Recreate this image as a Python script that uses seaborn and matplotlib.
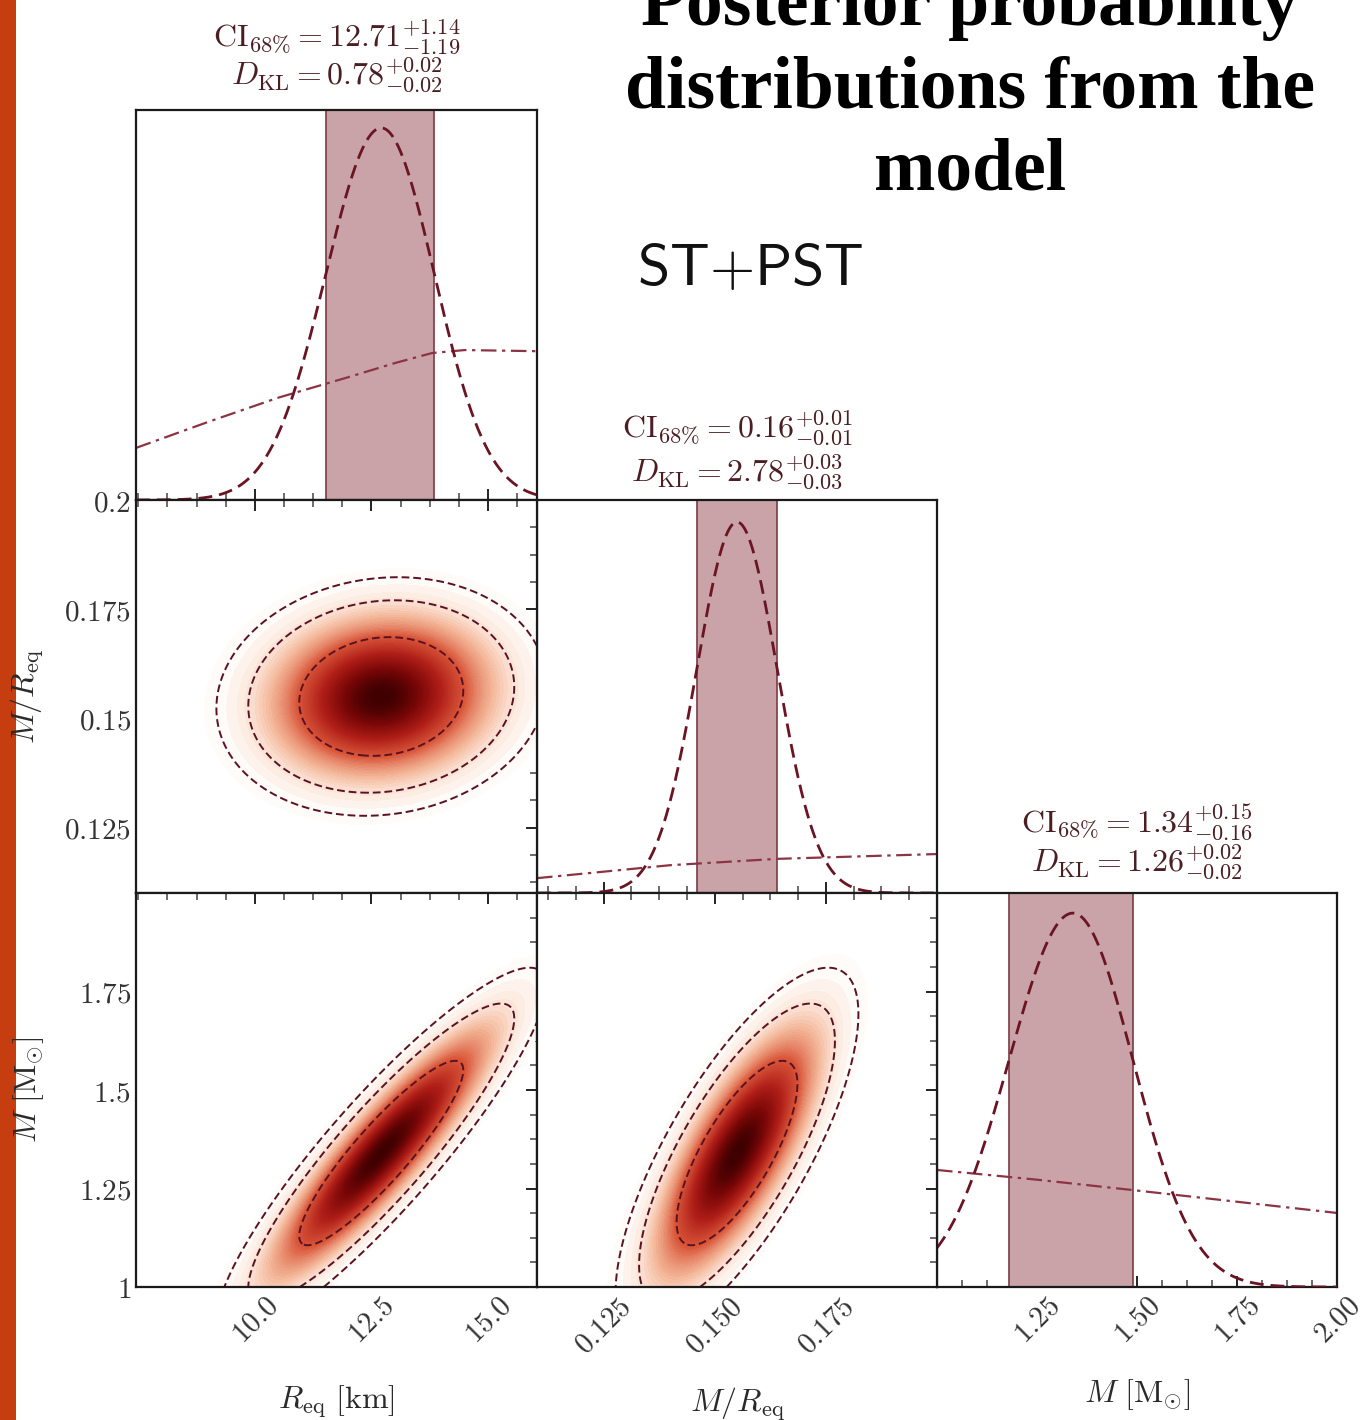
import numpy as np
import matplotlib
matplotlib.use("Agg")
import matplotlib.pyplot as plt
from matplotlib.colors import LinearSegmentedColormap, Normalize
from matplotlib.ticker import AutoMinorLocator
from matplotlib.patches import Rectangle
import seaborn as sns

sns.set_theme(style="white")
plt.rcParams["font.family"] = ["DejaVu Sans"]
plt.rcParams["mathtext.fontset"] = "cm"

# ---- posterior summaries (median, 68% credible interval) ----
param_names = ["R_eq", "MR", "M"]
medians = [12.71, 0.155, 1.34]
ci_lower = [1.19, 0.009, 0.16]
ci_upper = [1.14, 0.009, 0.15]
ci_text = [r"12.71_{-1.19}^{+1.14}", r"0.16_{-0.01}^{+0.01}", r"1.34_{-0.16}^{+0.15}"]
dkl_text = [r"0.78_{-0.02}^{+0.02}", r"2.78_{-0.03}^{+0.03}", r"1.26_{-0.02}^{+0.02}"]

# ---- axis ranges and ticks ----
ranges = [(7.45, 16.05), (0.11, 0.20), (1.0, 2.0)]
x_ticks = [[10.0, 12.5, 15.0], [0.125, 0.150, 0.175], [1.25, 1.50, 1.75, 2.00]]
x_tick_labels = [["10.0", "12.5", "15.0"], ["0.125", "0.150", "0.175"],
                 ["1.25", "1.50", "1.75", "2.00"]]
y_ticks = {1: [0.125, 0.15, 0.175, 0.2], 2: [1.0, 1.25, 1.5, 1.75]}
y_tick_labels = {1: ["0.125", "0.15", "0.175", "0.2"], 2: ["1", "1.25", "1.5", "1.75"]}
axis_labels = [r"$R_{\rm eq}\ [\mathrm{km}]$", r"$M/R_{\rm eq}$",
               r"$M\ [\mathrm{M}_{\odot}]$"]

# ---- prior densities (relative to posterior peak) ----
prior_R_x = [7.45, 9.0, 10.5, 12.0, 13.0, 13.8, 14.5, 16.05]
prior_R_y = [0.14, 0.21, 0.275, 0.33, 0.368, 0.395, 0.403, 0.40]
prior_MR_x = [0.11, 0.14, 0.164, 0.20]
prior_MR_y = [0.040, 0.075, 0.092, 0.105]
prior_M_x = [1.0, 1.25, 1.5, 1.75, 2.0]
prior_M_y = [0.313, 0.287, 0.258, 0.228, 0.198]
priors = [(prior_R_x, prior_R_y), (prior_MR_x, prior_MR_y), (prior_M_x, prior_M_y)]
peak_frac = [0.954, 0.944, 0.949]

# ---- 2D posterior shapes: (col, row) -> correlation ----
pair_corr = {(0, 1): 0.10, (0, 2): 0.90, (1, 2): 0.75}
credible_levels = [0.99, 0.95, 0.68]

# ---- styling ----
curve_col = "#6a1424"
prior_col = "#8c3444"
band_face = "#c9a3a7"
band_edge = "#7b3b45"
contour_col = "#5a1222"
text_col = "#4a1e22"
tick_col = "#333333"
cmap = LinearSegmentedColormap.from_list(
    "post", [(0.0, "#ffffff"), (0.04, "#fce9de"), (0.12, "#f4b89a"),
             (0.3, "#d9573a"), (0.55, "#b01e18"), (0.8, "#780606"), (1.0, "#3f0000")])

fig = plt.figure(figsize=(13.61, 14.2), dpi=100)
fig.patch.set_facecolor("white")
fig.add_artist(Rectangle((0, 0), 16 / 1361, 1, transform=fig.transFigure,
                         facecolor="#c63d0f", edgecolor="none", zorder=-5))

col_edges = [136, 537, 937, 1337]
row_edges = [110, 500, 893, 1287]
W, H = 1361, 1420


def make_axes(col, row):
    x0 = col_edges[col] / W
    w = (col_edges[col + 1] - col_edges[col]) / W
    y0 = 1 - row_edges[row + 1] / H
    h = (row_edges[row + 1] - row_edges[row]) / H
    return fig.add_axes([x0, y0, w, h])


def style_axes(ax, col, row, diag):
    for s in ax.spines.values():
        s.set_color("#1a1a1a")
        s.set_linewidth(1.6)
    ax.set_xlim(*ranges[col])
    ax.set_xticks(x_ticks[col])
    ax.xaxis.set_minor_locator(AutoMinorLocator(4))
    ax.tick_params(axis="both", which="major", direction="in", length=8, width=1.4,
                   color="#222222", labelcolor=tick_col, labelsize=21)
    ax.tick_params(axis="both", which="minor", direction="in", length=5, width=1.1,
                   color="#444444")
    if diag:
        ax.set_yticks([])
        ax.tick_params(axis="x", which="both", top=False, bottom=True)
    else:
        ax.set_ylim(*ranges[row])
        ax.set_yticks(y_ticks[row])
        ax.yaxis.set_minor_locator(AutoMinorLocator(4))
        ax.tick_params(axis="both", which="both", top=True, right=True)
    if row == 2:
        ax.set_xticklabels([f"${t}$" for t in x_tick_labels[col]], rotation=45)
        ax.set_xlabel(axis_labels[col], fontsize=23, color="#2a2a2a")
        ax.xaxis.set_label_coords(0.5, [-0.245, -0.25, -0.23][col])
    else:
        ax.set_xticklabels([])
    if col == 0 and not diag:
        ax.set_yticklabels([f"${t}$" for t in y_tick_labels[row]])
        ax.set_ylabel(axis_labels[row], fontsize=23, color="#2a2a2a")
        ax.yaxis.set_label_coords(-0.225, 0.5)
    elif not diag:
        ax.set_yticklabels([])
    ax.grid(False)


# ---- diagonal: 1D marginal posteriors ----
for i in range(3):
    ax = make_axes(i, i)
    lo, hi = ranges[i]
    x = np.linspace(lo, hi, 600)
    sig = np.where(x < medians[i], ci_lower[i], ci_upper[i])
    post = np.exp(-0.5 * ((x - medians[i]) / sig) ** 2)
    ax.axvspan(medians[i] - ci_lower[i], medians[i] + ci_upper[i],
               facecolor=band_face, edgecolor=band_edge, linewidth=1.2, zorder=1)
    sns.lineplot(x=x, y=post, ax=ax, color=curve_col, linewidth=2.0,
                 linestyle=(0, (5, 2.5)), zorder=3)
    px, py = priors[i]
    sns.lineplot(x=px, y=py, ax=ax, color=prior_col, linewidth=1.6,
                 linestyle=(0, (7, 2.5, 1.5, 2.5)), zorder=2)
    ax.set_ylim(0, 1 / peak_frac[i])
    style_axes(ax, i, i, True)
    ax.text(0.5, [1.187, 1.183, 1.18][i], rf"$\mathrm{{CI}}_{{68\%}} = {ci_text[i]}$",
            transform=ax.transAxes, ha="center", va="center", fontsize=23, color=text_col)
    ax.text(0.5, [1.09, 1.071, 1.079][i], rf"$D_{{\mathrm{{KL}}}} = {dkl_text[i]}$",
            transform=ax.transAxes, ha="center", va="center", fontsize=23, color=text_col)

# ---- off-diagonal: 2D joint posteriors ----
for (cx, cy), rho in pair_corr.items():
    ax = make_axes(cx, cy)
    xs = np.linspace(*ranges[cx], 400)
    ys = np.linspace(*ranges[cy], 400)
    X, Y = np.meshgrid(xs, ys)
    sx = 0.5 * (ci_lower[cx] + ci_upper[cx])
    sy = 0.5 * (ci_lower[cy] + ci_upper[cy])
    dx = (X - medians[cx]) / sx
    dy = (Y - medians[cy]) / sy
    q = (dx ** 2 - 2 * rho * dx * dy + dy ** 2) / (1 - rho ** 2)
    dens = np.exp(-0.5 * q)
    thr = [1 - p for p in credible_levels]
    fill_levels = np.linspace(thr[0] * 0.5, 1.0, 80)
    ax.contourf(X, Y, dens, levels=fill_levels, cmap=cmap, norm=Normalize(0, 1),
                zorder=1)
    ax.contour(X, Y, dens, levels=thr, colors=contour_col, linewidths=1.4,
               linestyles=[(0, (4, 2))], zorder=2)
    style_axes(ax, cx, cy, False)

# ---- headings ----
for txt, yb in zip(["Posterior probability", "distributions from the", "model"],
                   [25, 108, 190]):
    fig.text(970 / W, 1 - yb / H, txt, ha="center", va="baseline", fontsize=53,
             fontweight="bold", family=["Liberation Serif"], color="black")
fig.text(750 / W, 1 - 285 / H, r"$\mathsf{ST{+}PST}$", ha="center", va="baseline",
         fontsize=42, color="#111111")

fig.savefig("out.png", dpi=100, facecolor="white")
